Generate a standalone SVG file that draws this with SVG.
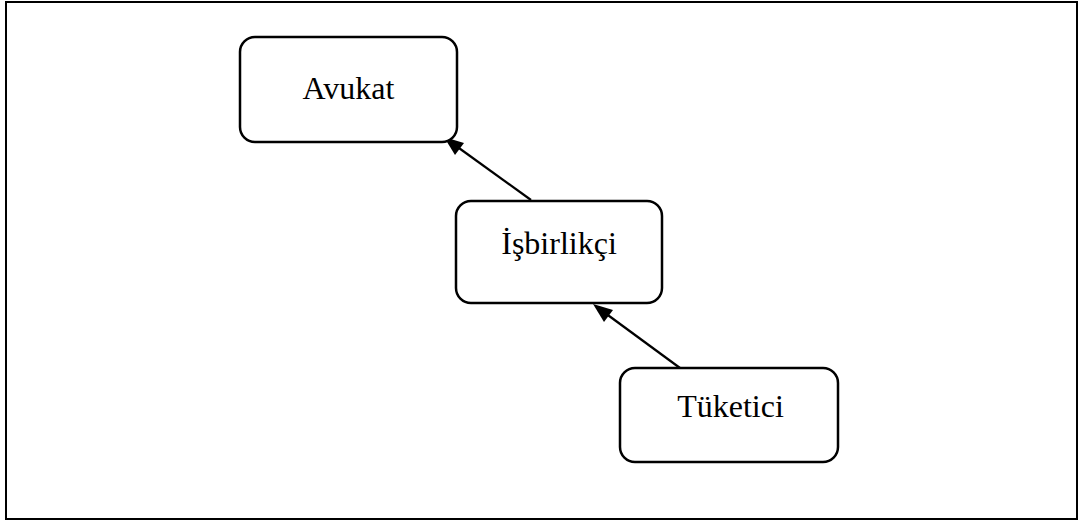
<svg xmlns="http://www.w3.org/2000/svg" width="1084" height="523" viewBox="0 0 1084 523">
  <style>
    .frame { fill: #ffffff; stroke: #000000; stroke-width: 2; }
    .box { fill: #ffffff; stroke: #000000; stroke-width: 2.5; }
    .label { font-family: "Liberation Serif", "Times New Roman", serif; font-size: 32px; fill: #000000; text-anchor: middle; }
    .edge { stroke: #000000; stroke-width: 2.2; fill: none; }
    .head { fill: #000000; }
  </style>
  <rect width="1084" height="523" fill="#ffffff"/>
  <rect class="frame" x="6" y="2" width="1071" height="517"/>

  <g id="connectors">
    <line class="edge" x1="531" y1="200" x2="452" y2="143"/>
    <path class="head" d="M444,137 L464,143 L455,155 Z"/>
    <line class="edge" x1="680" y1="368" x2="601" y2="310"/>
    <path class="head" d="M593,304 L613,310 L604,322 Z"/>
  </g>

  <g id="node-avukat">
    <rect class="box" x="240" y="37" width="217" height="105" rx="15"/>
    <text class="label" x="348.5" y="99">Avukat</text>
  </g>

  <g id="node-isbirlikci">
    <rect class="box" x="456" y="201" width="206" height="102" rx="15"/>
    <text class="label" x="559" y="254">İşbirlikçi</text>
  </g>

  <g id="node-tuketici">
    <rect class="box" x="620" y="368" width="218" height="94" rx="15"/>
    <text class="label" x="730.5" y="417">Tüketici</text>
  </g>
</svg>
